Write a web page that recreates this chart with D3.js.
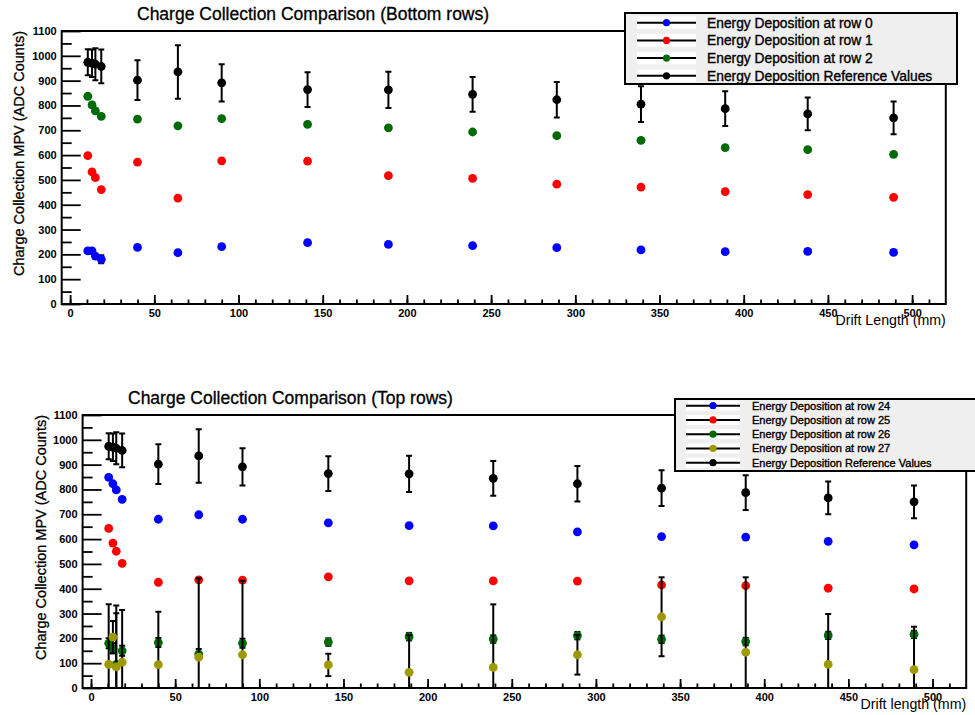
<!DOCTYPE html>
<html>
<head>
<meta charset="utf-8">
<style>
body { margin: 0; background: #fff; }
svg { font-family: "Liberation Sans", Arial, Helvetica, sans-serif; }
</style>
</head>
<body>
<svg width="975" height="715"></svg>
<script src="https://d3js.org/d3.v7.min.js"></script>
<script>

// drift lengths (mm), shared by every series
var drift = [10.5, 13, 15, 18.5, 40, 64, 90, 141, 189, 239, 289, 339, 389, 438, 489];

// reference values (both panels)
var refVals = [974, 970, 966, 957, 902, 935, 891, 864, 863, 845, 823, 805, 787, 766, 750];
var refErr  = [52, 55, 64, 68, 80, 108, 75, 70, 73, 70, 72, 72, 70, 66, 66];

// bottom rows
var row0    = [214, 214, 193, 180, 228, 207, 231, 247, 240, 235, 227, 218, 211, 212, 208];
var row0Err = [0, 0, 0, 16, 0, 0, 0, 0, 0, 0, 0, 0, 0, 0, 0];
var row1    = [598, 532, 509, 461, 572, 427, 577, 576, 517, 506, 483, 471, 453, 441, 430];
var row2    = [837, 802, 778, 756, 745, 718, 747, 724, 710, 693, 678, 659, 630, 622, 603];

// top rows
var row24    = [849, 823, 798, 760, 680, 698, 680, 665, 654, 653, 629, 610, 608, 591, 577];
var row25    = [643, 584, 551, 502, 426, 436, 435, 448, 432, 432, 431, 415, 412, 402, 399];
var row26    = [180, 160, 95, 150, 183, 137, 180, 185, 207, 197, 211, 196, 187, 212, 216];
var row26Err = [20, 20, 206, 20, 18, 20, 18, 15, 15, 15, 15, 15, 15, 15, 15];
var row27    = [95, 205, 85, 104, 94, 124, 134, 93, 63, 83, 134, 287, 144, 95, 74];
var row27Err = [242, 65, 247, 210, 213, 318, 298, 45, 150, 254, 80, 159, 302, 203, 173];

var blue = "#0000ff", red = "#ff0000", green = "#006b06", olive = "#9c9a00";

var svg = d3.select("svg");

function panel(cfg) {
  var x = d3.scaleLinear().domain([-5, 520]).range(cfg.xr);
  var y = d3.scaleLinear().domain([0, 1100]).range(cfg.yr);
  var g = svg.append("g");

  g.append("clipPath").attr("id", "clip" + cfg.id)
    .append("rect")
      .attr("x", cfg.xr[0]).attr("y", cfg.yr[1])
      .attr("width", cfg.xr[1] - cfg.xr[0])
      .attr("height", cfg.yr[0] - cfg.yr[1]);

  // minor ticks
  g.append("g").attr("class", "ax")
      .attr("transform", "translate(0," + cfg.yr[0] + ")")
      .call(d3.axisBottom(x).tickValues(d3.range(0, 511, 10)).tickSize(-4.5).tickFormat(""));
  g.append("g").attr("class", "ax")
      .attr("transform", "translate(" + cfg.xr[0] + ",0)")
      .call(d3.axisLeft(y).tickValues(d3.range(50, 1100, 100)).tickSize(-10).tickFormat(""));

  // major ticks with labels
  g.append("g").attr("class", "ax lab")
      .attr("transform", "translate(0," + cfg.yr[0] + ")")
      .call(d3.axisBottom(x).tickValues(d3.range(0, 501, 50)).tickSize(-9).tickPadding(5)
        .tickFormat(d3.format("d")));
  g.append("g").attr("class", "ax lab")
      .attr("transform", "translate(" + cfg.xr[0] + ",0)")
      .call(d3.axisLeft(y).tickValues(d3.range(0, 1101, 100)).tickSize(-19).tickPadding(5)
        .tickFormat(d3.format("d")));

  g.selectAll(".ax .domain").remove();
  g.selectAll(".ax line").attr("stroke", "#000").attr("stroke-width", 1.8);
  g.selectAll(".lab text").attr("font-size", 11).attr("fill", "#000")
      .attr("font-weight", "bold")
      .attr("font-family", "Liberation Sans, Arial, sans-serif");

  // frame
  g.append("rect")
      .attr("x", cfg.xr[0]).attr("y", cfg.yr[1])
      .attr("width", cfg.xr[1] - cfg.xr[0])
      .attr("height", cfg.yr[0] - cfg.yr[1])
      .attr("fill", "none").attr("stroke", "#000").attr("stroke-width", 2);

  // graphs
  var plot = g.append("g").attr("clip-path", "url(#clip" + cfg.id + ")");
  cfg.series.forEach(function(s) {
    var pts = drift.map(function(d, i) {
      return {x: d, v: s.values[i], e: s.err ? s.err[i] : 0};
    });
    var eg = plot.append("g").attr("stroke", "#000").attr("stroke-width", 2);
    pts.filter(function(p) { return p.e > 0; }).forEach(function(p) {
      var cx = x(p.x);
      eg.append("line").attr("x1", cx).attr("x2", cx)
          .attr("y1", y(p.v - p.e)).attr("y2", y(p.v + p.e));
      [p.v - p.e, p.v + p.e].forEach(function(v) {
        eg.append("line").attr("x1", cx - 3).attr("x2", cx + 3)
            .attr("y1", y(v)).attr("y2", y(v));
      });
    });
    plot.append("g").selectAll("circle").data(pts).join("circle")
        .attr("cx", function(p) { return x(p.x); })
        .attr("cy", function(p) { return y(p.v); })
        .attr("r", 4.4)
        .attr("fill", s.color);
  });

  // titles
  svg.append("text").attr("x", cfg.titlePos[0]).attr("y", cfg.titlePos[1])
      .attr("font-size", 17.5).attr("stroke", "#000").attr("stroke-width", 0.3)
      .text(cfg.title);
  svg.append("text")
      .attr("transform", "translate(" + cfg.ytitleX + "," + cfg.yr[1] + ") rotate(-90)")
      .attr("text-anchor", "end").attr("font-size", 14.5)
      .attr("stroke", "#000").attr("stroke-width", 0.3)
      .text("Charge Collection MPV (ADC Counts)");
  // axis title sits on the last tick label, as in the original
  svg.append("text").attr("x", cfg.xr[1]).attr("y", cfg.xtitleY)
      .attr("text-anchor", "end").attr("font-size", 14.2)
      .text(cfg.xtitle);

  // legend
  var L = cfg.legend;
  var lg = svg.append("g");
  lg.append("rect").attr("x", L.x).attr("y", L.y).attr("width", L.w).attr("height", L.h)
      .attr("fill", "#efefef").attr("stroke", "#000").attr("stroke-width", 2);
  cfg.series.forEach(function(s, i) {
    var ry = L.row0 + i * L.step;
    lg.append("rect").attr("x", L.lx0).attr("y", ry - L.step * 0.35)
        .attr("width", L.lx1 - L.lx0).attr("height", L.step * 0.7).attr("fill", "#fff");
    lg.append("line").attr("x1", L.lx0).attr("x2", L.lx1).attr("y1", ry).attr("y2", ry)
        .attr("stroke", "#000").attr("stroke-width", 2);
    lg.append("circle").attr("cx", (L.lx0 + L.lx1) / 2).attr("cy", ry).attr("r", 3.6)
        .attr("fill", s.color);
    lg.append("text").attr("x", L.tx).attr("y", ry).attr("dy", "0.36em")
        .attr("font-size", L.fs).attr("stroke", "#000").attr("stroke-width", 0.35)
        .text(s.label);
  });
}

panel({
  id: "bot",
  xr: [61.7, 945.8], yr: [304, 31],
  title: "Charge Collection Comparison (Bottom rows)", titlePos: [137, 19.5],
  ytitleX: 23.5, xtitle: "Drift Length (mm)", xtitleY: 325,
  series: [
    {values: row0, err: row0Err, color: blue, label: "Energy Deposition at row 0"},
    {values: row1, color: red, label: "Energy Deposition at row 1"},
    {values: row2, color: green, label: "Energy Deposition at row 2"},
    {values: refVals, err: refErr, color: "#000", label: "Energy Deposition Reference Values"}
  ],
  legend: {x: 625, y: 13, w: 332, h: 71, row0: 22.7, step: 17.7, lx0: 637, lx1: 696, tx: 707, fs: 13.8}
});

panel({
  id: "top",
  xr: [82.6, 966.2], yr: [688, 415],
  title: "Charge Collection Comparison (Top rows)", titlePos: [128, 404],
  ytitleX: 45.5, xtitle: "Drift length (mm)", xtitleY: 709,
  series: [
    {values: row24, color: blue, label: "Energy Deposition at row 24"},
    {values: row25, color: red, label: "Energy Deposition at row 25"},
    {values: row26, err: row26Err, color: green, label: "Energy Deposition at row 26"},
    {values: row27, err: row27Err, color: olive, label: "Energy Deposition at row 27"},
    {values: refVals, err: refErr, color: "#000", label: "Energy Deposition Reference Values"}
  ],
  legend: {x: 675, y: 399, w: 320, h: 72, row0: 405.7, step: 14.25, lx0: 686, lx1: 740, tx: 752, fs: 11}
});

</script>
</body>
</html>
